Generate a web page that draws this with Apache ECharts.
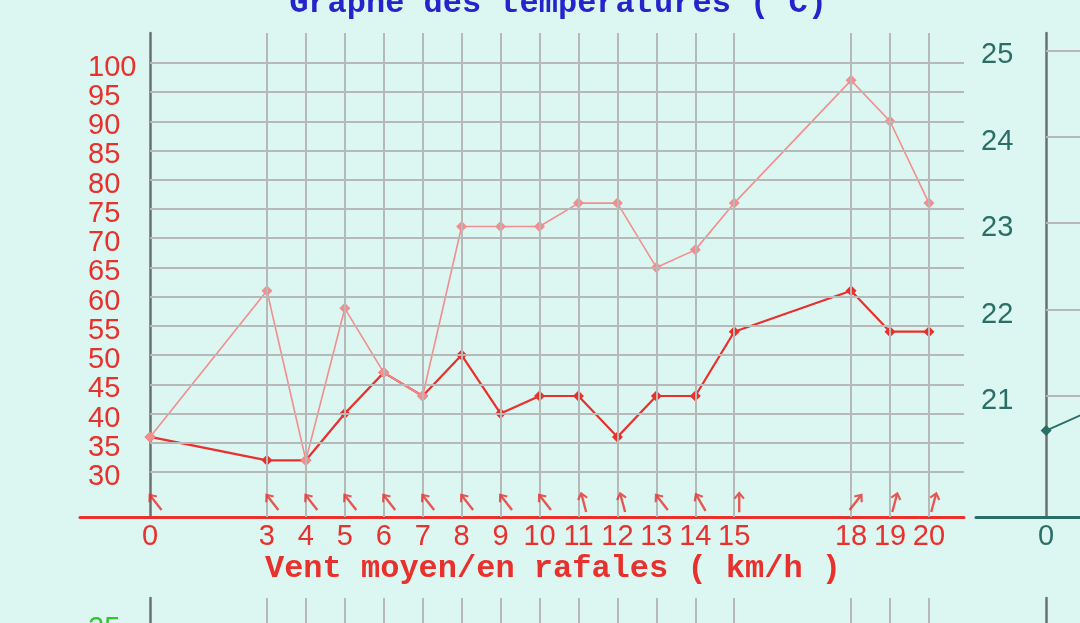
<!DOCTYPE html>
<html>
<head>
<meta charset="utf-8">
<script src="https://cdn.jsdelivr.net/npm/echarts@6/dist/echarts.min.js"></script>
<style>
html,body{margin:0;padding:0;background:#dcf6f1;}
#c{width:1080px;height:623px;}
</style>
</head>
<body>
<div id="c"></div>
<script>
// ---- data ----
const hours     = [0, 3, 4, 5, 6, 7, 8, 9, 10, 11, 12, 13, 14, 15, 18, 19, 20];
const windMean  = [36, 32, 32, 40, 47, 43, 50, 40, 43, 43, 36, 43, 43, 54, 61, 54, 54];
const windGust  = [36, 61, 32, 58, 47, 43, 72, 72, 72, 76, 76, 65, 68, 76, 97, 90, 76];
const windDir   = [38, 38, 38, 38, 38, 38, 38, 38, 38, 15, 15, 38, 30, 0, -38, -15, -15]; // arrow rotation (deg, ccw from north-up)
const windTicks = [30, 35, 40, 45, 50, 55, 60, 65, 70, 75, 80, 85, 90, 95, 100];
const tempTicks = [21, 22, 23, 24, 25];
const tempHours = [0, 3];
const tempVals  = [20.6, 21.2];
const lowerTicks = [25];

const RED = '#e8302c', PINK = '#f28e8e', TEAL = '#2a6e66', GRID = '#b6b9b8', AXIS = '#6c7070';
const labelFont = 'Liberation Sans';
const monoFont = 'Liberation Mono';

function tickFmt(list){
  return function(v){
    const r = Math.round(v);
    return (Math.abs(v - r) < 1e-6 && list.includes(r)) ? String(r) : '';
  };
}
const arrowPath = 'path://M6,0 L12,7 L10.2,8.4 L7.3,5 L7.3,22 L4.7,22 L4.7,5 L1.8,8.4 L0,7 Z';

const XMIN = -1.8, XMAX = 20.9;
function xAxisDef(gridIndex, color, showLabels){
  return {
    type: 'value', gridIndex, min: XMIN, max: XMAX, interval: 0.1,
    axisLine: {show: showLabels, onZero: false, lineStyle: {color, width: 3}},
    axisTick: {show: false}, splitLine: {show: false},
    axisLabel: {show: showLabels, formatter: tickFmt(hours), color, fontFamily: labelFont, fontSize: 29, margin: 5}
  };
}
function yLabel(list, color, margin){
  return {formatter: tickFmt(list), color, fontFamily: labelFont, fontSize: 29,
    align: 'left', verticalAlign: 'top', lineHeight: 10, margin};
}

function hLines(ticks){
  return ticks.map(v => [{coord: [0, v]}, {coord: [XMAX, v]}]);
}
function vLines(list){
  return list.map(h => ({xAxis: h}));
}
function gridSeries(xi, yi, data){
  return {
    type: 'line', xAxisIndex: xi, yAxisIndex: yi, data: [], z: 1, silent: true,
    markLine: {silent: true, symbol: ['none', 'none'], label: {show: false}, animation: false,
      lineStyle: {color: GRID, width: 2, type: 'solid'}, data: data}
  };
}

const chart = echarts.init(document.getElementById('c'));
chart.setOption({
  backgroundColor: '#dcf6f1',
  animation: false,
  title: [
    {text: 'Graphe des temperatures (°C)', left: 553, top: -17, textAlign: 'center',
     textStyle: {fontFamily: monoFont, fontWeight: 'bold', fontSize: 32, color: '#2424cc'}},
    {text: 'Vent moyen/en rafales ( km/h )', left: 548, top: 548, textAlign: 'center',
     textStyle: {fontFamily: monoFont, fontWeight: 'bold', fontSize: 32, color: RED}}
  ],
  grid: [
    {left: 80, width: 884, top: 33, bottom: 106, outerBoundsMode: 'none'},
    {left: 976, width: 884, top: 33, bottom: 106, outerBoundsMode: 'none'},
    {left: 80, width: 884, top: 598, height: 300, outerBoundsMode: 'none'},
    {left: 976, width: 884, top: 598, height: 300, outerBoundsMode: 'none'}
  ],
  xAxis: [
    xAxisDef(0, RED, true),
    xAxisDef(1, TEAL, true),
    xAxisDef(2, AXIS, false),
    xAxisDef(3, AXIS, false)
  ],
  yAxis: [
    {type: 'value', gridIndex: 0, min: 22.3, max: 105.1, interval: 0.1,
     axisLine: {show: true, onZero: true, lineStyle: {color: AXIS, width: 2.5}},
     axisTick: {show: false}, splitLine: {show: false},
     axisLabel: yLabel(windTicks, RED, -8)},
    {type: 'value', gridIndex: 1, min: 19.6, max: 25.2, interval: 0.1,
     axisLine: {show: true, onZero: true, lineStyle: {color: AXIS, width: 2.5}},
     axisTick: {show: false}, splitLine: {show: false},
     axisLabel: yLabel(tempTicks, TEAL, -5)},
    {type: 'value', gridIndex: 2, min: 0, max: 27.4, interval: 0.1,
     axisLine: {show: true, onZero: true, lineStyle: {color: AXIS, width: 2.5}},
     axisTick: {show: false}, splitLine: {show: false},
     axisLabel: yLabel(lowerTicks, '#33c433', -8)},
    {type: 'value', gridIndex: 3, min: 0, max: 27.4, interval: 0.1,
     axisLine: {show: true, onZero: true, lineStyle: {color: AXIS, width: 2.5}},
     axisTick: {show: false}, splitLine: {show: false}, axisLabel: {show: false}}
  ],
  series: [
    gridSeries(0, 0, vLines(hours.filter(h => h !== 0)).concat(hLines(windTicks))),
    gridSeries(1, 1, hLines(tempTicks)),
    gridSeries(2, 2, vLines(hours.filter(h => h !== 0))),
    {
      name: 'Vent moyen', type: 'line', xAxisIndex: 0, yAxisIndex: 0, z: 3,
      data: hours.map((h, i) => [h, windMean[i]]),
      symbol: 'diamond', symbolSize: 11,
      lineStyle: {color: RED, width: 2.2}, itemStyle: {color: RED}
    },
    {
      name: 'Rafales', type: 'line', xAxisIndex: 0, yAxisIndex: 0, z: 4,
      data: hours.map((h, i) => [h, windGust[i]]),
      symbol: 'diamond', symbolSize: 11,
      lineStyle: {color: PINK, width: 1.6}, itemStyle: {color: PINK}
    },
    {
      name: 'Direction', type: 'scatter', xAxisIndex: 0, yAxisIndex: 0, z: 5,
      data: hours.map((h, i) => ({value: [h, 24.9], symbolRotate: windDir[i]})),
      symbol: arrowPath, symbolSize: [11, 21], symbolOffset: [5, 0],
      itemStyle: {color: RED}
    },
    {
      name: 'Temperature', type: 'line', xAxisIndex: 1, yAxisIndex: 1, z: 3,
      data: tempHours.map((h, i) => [h, tempVals[i]]),
      symbol: 'diamond', symbolSize: 11,
      lineStyle: {color: TEAL, width: 2}, itemStyle: {color: TEAL}
    }
  ]
});
</script>
</body>
</html>
